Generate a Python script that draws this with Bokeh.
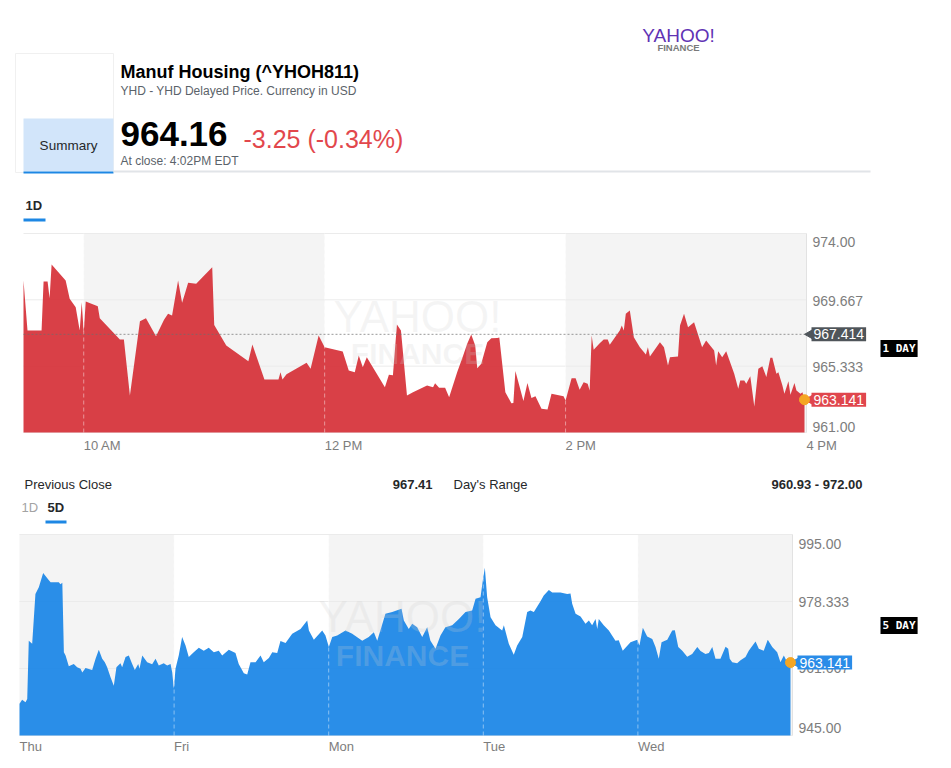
import math
from bokeh.plotting import figure
from bokeh.models import Range1d, Label
from bokeh.layouts import column
from bokeh.embed import file_html
from bokeh.resources import INLINE
from bokeh.core.properties import value

FONT = "Liberation Sans"
W = 951

# ------------------------------------------------------------------ data
title = "Manuf Housing (^YHOH811)"
subtitle = "YHD - YHD Delayed Price. Currency in USD"
price_text = "964.16"
change_text = "-3.25 (-0.34%)"
close_text = "At close: 4:02PM EDT"
stats_labels = ["Previous Close", "Day's Range"]
stats_values = ["967.41", "960.93 - 972.00"]

# 1-day chart: minutes after 9:30 AM, price
day_minutes = [0, 2, 9, 10, 12, 13, 14, 21, 23, 26, 28, 29, 30, 31, 37, 38, 48, 50, 53, 58,
               61, 66, 70, 72, 74, 77, 79, 81, 82, 86, 94, 95, 101, 112, 114, 120, 127, 128, 129, 131,
               141, 143, 147, 150, 159, 162, 165, 167, 169, 171, 180, 182, 184, 186, 188, 191, 194, 201, 204, 205,
               207, 210, 212, 216, 219, 221, 223, 225, 226, 228, 231, 233, 236, 237, 240, 243, 244, 245, 249, 251,
               253, 255, 258, 261, 263, 269, 270, 273, 275, 277, 279, 281, 282, 283, 284, 287, 289, 291, 292, 297,
               298, 299, 300, 302, 304, 307, 310, 311, 312, 317, 319, 321, 322, 326, 327, 329, 331, 334, 338, 340,
               344, 345, 346, 348, 350, 354, 356, 357, 359, 360, 362, 364, 366, 368, 370, 372, 373, 375, 376, 378,
               379, 381, 382, 384, 385, 387, 388, 389]
day_prices = [970.93, 967.66, 967.66, 970.86, 970.86, 969.77, 971.97, 970.93, 969.73, 969.18, 967.66, 969.51, 967.55, 969.56, 969.25, 968.47, 967.07, 967.07, 963.42, 968.27,
              968.47, 967.29, 968.36, 968.75, 968.64, 970.93, 969.47, 970.34, 970.78, 970.71, 971.80, 968.03, 966.68, 965.66, 966.75, 964.46, 964.46, 964.94, 964.46, 964.80,
              965.55, 965.16, 967.34, 966.57, 966.29, 965.05, 964.94, 966.03, 965.27, 965.92, 963.96, 964.77, 964.74, 968.05, 967.66, 963.42, 963.63, 964.07, 963.96, 964.22,
              963.92, 963.92, 963.31, 964.94, 966.03, 966.79, 967.40, 966.68, 965.20, 965.49, 966.90, 967.16, 967.18, 967.20, 963.63, 962.91, 962.93, 965.01, 963.05, 964.24,
              963.26, 963.37, 962.55, 962.50, 963.53, 963.37, 963.09, 964.55, 964.55, 963.79, 964.29, 964.18, 963.74, 967.34, 966.40, 966.83, 967.07, 967.07, 966.73, 967.66,
              967.99, 967.66, 968.75, 968.97, 967.22, 966.57, 966.09, 966.57, 965.96, 966.90, 966.57, 965.38, 965.92, 965.96, 967.99, 968.75, 967.87, 968.20, 966.57, 967.01,
              966.36, 965.38, 966.31, 965.92, 966.31, 964.83, 963.85, 964.40, 964.40, 964.18, 964.68, 962.70, 965.16, 965.33, 964.62, 965.88, 965.88, 964.83, 964.94, 964.07,
              963.53, 964.35, 963.46, 964.24, 963.74, 963.53, 963.63, 963.141]
day_ticks = [30, 150, 270, 390]
day_tick_labels = ["10 AM", "12 PM", "2 PM", "4 PM"]
day_band_start = [30, 270]
day_band_end = [150, 390]
day_session_lines = [30, 150, 270]
day_x_span = [0, 390]
day_y_ticks = [961.0, 965.333, 969.667, 974.0]
day_y_labels = ["961.00", "965.333", "969.667", "974.00"]
prev_close = 967.414

# 5-day chart: trading days since Thu open, price
week_days = [0.000, 0.017, 0.039, 0.050, 0.060, 0.082, 0.103, 0.125, 0.153, 0.190, 0.201, 0.254, 0.265, 0.277, 0.287, 0.298, 0.319, 0.351, 0.373, 0.395,
             0.406, 0.427, 0.470, 0.492, 0.513, 0.535, 0.552, 0.567, 0.589, 0.610, 0.627, 0.653, 0.664, 0.686, 0.707, 0.729, 0.746, 0.768, 0.776, 0.794,
             0.826, 0.858, 0.880, 0.901, 0.933, 0.955, 0.977, 0.988, 0.998, 1.009, 1.030, 1.052, 1.074, 1.095, 1.127, 1.160, 1.192, 1.224, 1.257, 1.289,
             1.311, 1.354, 1.397, 1.418, 1.451, 1.473, 1.494, 1.527, 1.559, 1.580, 1.613, 1.635, 1.667, 1.688, 1.721, 1.764, 1.818, 1.861, 1.872, 1.904,
             1.958, 1.979, 2.001, 2.023, 2.055, 2.109, 2.152, 2.217, 2.259, 2.292, 2.314, 2.367, 2.411, 2.471, 2.486, 2.518, 2.540, 2.572, 2.605, 2.637,
             2.658, 2.691, 2.723, 2.755, 2.799, 2.842, 2.885, 2.928, 2.950, 2.982, 2.997, 3.010, 3.025, 3.047, 3.079, 3.122, 3.133, 3.165, 3.197, 3.219,
             3.252, 3.284, 3.305, 3.327, 3.349, 3.370, 3.391, 3.424, 3.446, 3.499, 3.543, 3.564, 3.575, 3.597, 3.629, 3.661, 3.683, 3.704, 3.726, 3.737,
             3.747, 3.779, 3.812, 3.855, 3.876, 3.902, 3.952, 3.996, 4.010, 4.032, 4.060, 4.093, 4.114, 4.135, 4.153, 4.190, 4.222, 4.239, 4.261, 4.287,
             4.319, 4.351, 4.384, 4.405, 4.437, 4.459, 4.481, 4.502, 4.534, 4.567, 4.584, 4.594, 4.610, 4.642, 4.664, 4.696, 4.717, 4.761, 4.782, 4.814,
             4.840, 4.869, 4.901, 4.922, 4.944, 4.959, 4.976, 4.987]
week_prices = [952.9, 953.9, 953.3, 954.1, 968.6, 967.8, 980.2, 981.9, 985.4, 983.6, 983.1, 983.1, 982.6, 983.0, 965.7, 964.9, 962.2, 962.8, 962.0, 961.6,
               960.7, 961.8, 961.3, 964.1, 966.3, 964.1, 963.2, 962.0, 959.5, 957.4, 962.0, 963.0, 962.0, 964.5, 964.9, 962.8, 961.3, 962.8, 961.6, 964.9,
               963.2, 962.7, 964.1, 962.4, 963.0, 962.4, 962.8, 960.7, 956.6, 961.6, 964.9, 969.5, 967.4, 964.5, 965.7, 966.8, 966.1, 966.8, 965.7, 966.1,
               964.9, 966.3, 965.5, 962.8, 960.5, 960.2, 963.2, 963.2, 964.9, 963.2, 964.3, 965.7, 965.5, 968.5, 968.0, 970.3, 971.5, 973.6, 971.1, 968.8,
               971.1, 969.9, 967.0, 969.5, 969.9, 971.1, 970.3, 968.6, 969.5, 970.7, 968.6, 975.3, 975.7, 976.5, 973.6, 971.5, 972.8, 971.9, 969.5, 971.9,
               968.6, 966.6, 969.9, 971.9, 972.4, 974.0, 975.7, 976.1, 979.0, 979.4, 983.6, 986.7, 979.4, 974.4, 972.4, 971.1, 972.4, 967.8, 965.1, 967.4,
               969.5, 975.7, 976.1, 975.7, 977.1, 978.4, 979.8, 981.2, 980.6, 980.6, 980.2, 980.3, 977.8, 975.3, 974.6, 972.8, 973.6, 972.4, 974.0, 971.5,
               974.0, 972.4, 971.1, 968.6, 968.7, 966.1, 968.2, 968.8, 967.4, 971.8, 969.6, 969.0, 967.0, 964.1, 968.2, 968.8, 971.1, 971.2, 967.0, 966.1,
               964.6, 965.3, 967.0, 966.0, 965.3, 965.5, 967.0, 964.1, 964.1, 967.1, 966.6, 964.1, 963.2, 963.0, 963.7, 964.5, 966.1, 968.4, 966.6, 966.1,
               968.8, 967.0, 965.7, 963.2, 964.9, 963.7, 963.2, 963.141]
week_ticks = [0, 1, 2, 3, 4]
week_tick_labels = ["Thu", "Fri", "Mon", "Tue", "Wed"]
week_band_start = [0, 2, 4]
week_band_end = [1, 3, 5]
week_session_lines = [1, 2, 3, 4]
week_x_span = [0, 5]
week_y_ticks = [945.0, 961.667, 978.333, 995.0]
week_y_labels = ["945.00", "961.667", "978.333", "995.00"]

RED = "#d52b33"
BLUE = "#1a85e6"
BAND = "#f4f4f4"
GRID = "#ebebeb"
TICK_TXT = "#7d7d7d"
ORANGE = "#f5a623"
TAB_BLUE = "#1d87e4"


# ------------------------------------------------------------------ helpers
def text_fig(h):
    f = figure(width=W, height=h, x_range=Range1d(0, W), y_range=Range1d(h, 0),
               x_axis_type=None, y_axis_type=None, output_backend="svg",
               toolbar_location=None, min_border=0)
    f.outline_line_color = None
    return f


def txt(f, x, y, s, size, color="#000000", bold=False, align="left", font=FONT):
    f.text(x=[x], y=[y], text=[s], text_font=value(font), text_font_size=f"{size}px",
           text_color=color, text_font_style="bold" if bold else "normal",
           text_align=align, text_baseline="middle")


def chart(xs, ys, color, alpha, x_span, y_ticks, y_labels, y_label_shift, ticks, tick_labels,
          tick_shift, band_start, band_end, session_lines, height, px0, px1, py0, py1):
    # the plot frame fills the whole figure; the data box sits at pixels px0..px1, py0..py1
    x0, x1 = x_span
    y0, y1 = y_ticks[0], y_ticks[-1]
    kx = (px1 - px0) / (x1 - x0)
    ky = (py1 - py0) / (y1 - y0)
    p = figure(width=W, height=height,
               x_range=Range1d(x0 - px0 / kx, x1 + (W - px1) / kx),
               y_range=Range1d(y0 - (height - py1) / ky, y1 + py0 / ky),
               x_axis_type=None, y_axis_type=None, output_backend="svg",
               toolbar_location=None, min_border=0)
    p.outline_line_color = None

    p.quad(left=band_start, right=band_end, bottom=y0, top=y1,
           fill_color=BAND, line_color=None)
    p.segment(x0=x0, x1=x1, y0=y_ticks, y1=y_ticks, line_color=GRID, line_width=1)
    p.varea(x=xs, y1=y0, y2=ys, fill_color=color, fill_alpha=alpha)
    p.segment(x0=session_lines, x1=session_lines, y0=y0, y1=y1, line_color="white",
              line_alpha=0.45, line_dash="4 3", line_width=1)
    p.segment(x0=x1, x1=x1, y0=y0, y1=y1, line_color="#e2e2e2", line_width=1)
    # right value axis
    p.text(x=x1, y=y_ticks, text=y_labels, x_offset=6, y_offset=y_label_shift,
           text_align="left", text_baseline="middle", text_font=value(FONT),
           text_font_size="14px", text_color=TICK_TXT)
    # time axis
    p.text(x=ticks, y=y0, text=tick_labels, y_offset=tick_shift, text_align="left",
           text_baseline="middle", text_font=value(FONT), text_font_size="13px",
           text_color=TICK_TXT)
    return p, kx


def tag(p, kx, x_end, y, s, bg):
    p.scatter(x=[x_end + 4.5 / kx], y=[y], marker="triangle", angle=math.pi / 2,
              size=11, color=bg)
    p.add_layout(Label(x=x_end, y=y, x_offset=5, text=s, text_align="left",
                       text_baseline="middle", text_font=FONT, text_font_size="14px",
                       text_color="white", background_fill_color=bg, padding=2))


def watermark(p, x, y1, y2):
    p.add_layout(Label(x=x, y=y1, x_units="screen", y_units="screen", text="YAHOO!",
                       text_align="center", text_baseline="middle", text_font=FONT,
                       text_font_size="44px", text_color="#cfcfcf", text_alpha=0.22))
    p.add_layout(Label(x=x, y=y2, x_units="screen", y_units="screen", text="FINANCE",
                       text_align="center", text_baseline="middle", text_font=FONT,
                       text_font_style="bold", text_font_size="30px",
                       text_color="#cfcfcf", text_alpha=0.22))


def range_tag(p, x, y, s):
    p.add_layout(Label(x=x, y=y, x_units="screen", y_units="screen", text=s,
                       text_align="left", text_baseline="middle",
                       text_font="DejaVu Sans Mono", text_font_style="bold",
                       text_font_size="11px", text_color="white",
                       background_fill_color="black", padding=2))


# ------------------------------------------------------------------ header (page pixels)
hdr = text_fig(225)
hdr.quad(left=[15], right=[113], top=[53], bottom=[172], fill_color="white",
         line_color="#f0f0f0", line_width=1)
hdr.quad(left=[23], right=[113], top=[118], bottom=[171], fill_color="#d2e5fa", line_color=None)
hdr.quad(left=[23], right=[113], top=[171], bottom=[173], fill_color=TAB_BLUE, line_color=None)
hdr.quad(left=[113], right=[870], top=[170], bottom=[172], fill_color="#e1e4e8", line_color=None)
txt(hdr, 68, 145, "Summary", 13.5, "#26282a", align="center")
txt(hdr, 678, 35, "YAHOO!", 19, "#6032b4", align="center")
txt(hdr, 678, 47, "FINANCE", 9.5, "#7a7a7a", bold=True, align="center")
txt(hdr, 120, 71, title, 18, "#000000", bold=True)
txt(hdr, 120, 90, subtitle, 12, "#5b636a")
txt(hdr, 120, 133, price_text, 35, "#000000", bold=True)
txt(hdr, 243, 138, change_text, 25, "#e2474c")
txt(hdr, 120, 160, close_text, 12, "#5b636a")
txt(hdr, 25, 204.5, "1D", 13, "#26282a", bold=True)
hdr.quad(left=[23], right=[45], top=[218], bottom=[221], fill_color=TAB_BLUE, line_color=None)

# ------------------------------------------------------------------ 1D chart
p1, k1 = chart(day_minutes, day_prices, RED, 0.9, day_x_span, day_y_ticks, day_y_labels,
               [-6, 1, 1, 8], day_ticks, day_tick_labels, 13, day_band_start, day_band_end,
               day_session_lines, height=237, px0=23, px1=806, py0=8, py1=207)
p1.line(x=day_x_span, y=prev_close, line_color="#6e6e6e", line_alpha=0.7,
        line_dash="2 2", line_width=1)
watermark(p1, 417, 146, 109)
tag(p1, k1, day_x_span[1], prev_close, f"{prev_close:.3f}", "#4f555a")
tag(p1, k1, day_x_span[1], day_prices[-1], f"{day_prices[-1]:.3f}", "#e0464d")
p1.scatter(x=[day_minutes[-1]], y=[day_prices[-1]], size=10, color=ORANGE)
range_tag(p1, 880, 114, "1 DAY")

# ------------------------------------------------------------------ stats row
st = text_fig(68)
txt(st, 24, 22, stats_labels[0], 13, "#26282a")
txt(st, 432, 22, stats_values[0], 13, "#26282a", bold=True, align="right")
txt(st, 453, 22, stats_labels[1], 13, "#26282a")
txt(st, 862, 22, stats_values[1], 13, "#26282a", bold=True, align="right")
txt(st, 21, 44.5, "1D", 13, "#a3a3a3")
txt(st, 47, 44.5, "5D", 13, "#26282a", bold=True)
st.quad(left=[45], right=[66], top=[58], bottom=[61], fill_color=TAB_BLUE, line_color=None)

# ------------------------------------------------------------------ 5D chart
p2, k2 = chart(week_days, week_prices, BLUE, 0.93, week_x_span, week_y_ticks, week_y_labels,
               [-8, 0, 0, 9], week_ticks, week_tick_labels, 11, week_band_start, week_band_end,
               week_session_lines, height=228, px0=19, px1=792, py0=4, py1=205)
watermark(p2, 402, 142, 103)
tag(p2, k2, week_x_span[1], week_prices[-1], f"{week_prices[-1]:.3f}", "#2a8ce8")
p2.scatter(x=[week_days[-1]], y=[week_prices[-1]], size=10, color=ORANGE)
range_tag(p2, 880, 133, "5 DAY")

layout = column(hdr, p1, st, p2, spacing=0)
open("out.html", "w").write(file_html(layout, INLINE))
